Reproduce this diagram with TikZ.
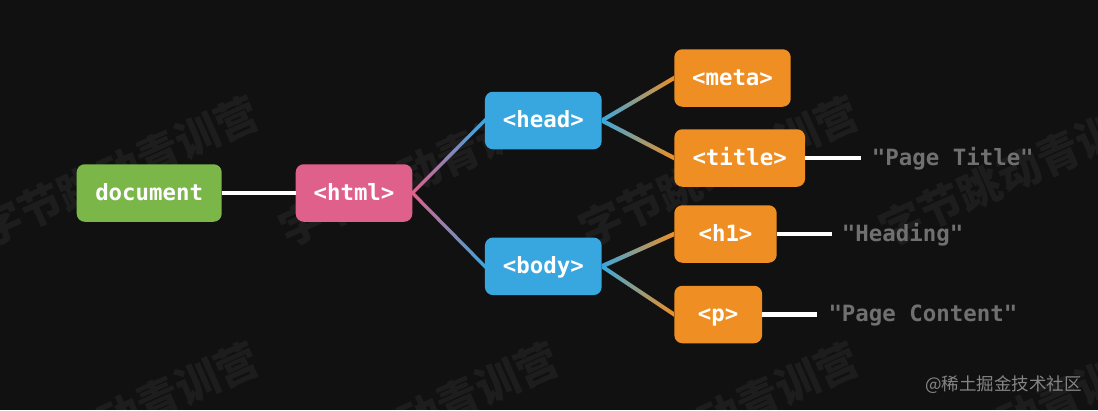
\documentclass[tikz,border=0pt]{standalone}
\usepackage{fontspec}
\usepackage{tikz}
\newfontfamily\codefont{DejaVu Sans Mono}
\newfontfamily\cjkfont{Noto Sans CJK SC}

\definecolor{bgc}{HTML}{111111}
\definecolor{docgreen}{HTML}{7AB648}
\definecolor{htmlpink}{HTML}{E0608C}
\definecolor{tagblue}{HTML}{39A7DF}
\definecolor{leaforange}{HTML}{EF8E22}
\definecolor{midpurple}{HTML}{A58AD4}
\definecolor{midolive}{HTML}{949A80}
\definecolor{textgray}{HTML}{707070}
\definecolor{creditgray}{HTML}{858585}

\tikzset{
  tag/.style={rounded corners=8pt, minimum height=57.5pt, inner sep=0pt, text=white,
    font=\codefont\bfseries\fontsize{22.4}{26}\selectfont, text height=17pt, text depth=3pt},
  leaf/.style={tag, fill=leaforange},
  strtext/.style={anchor=west, inner sep=0pt, text=textgray, text height=17pt, text depth=3pt,
    font=\codefont\bfseries\fontsize{22.4}{26}\selectfont},
  wire/.style={white, line width=4.3pt},
  watermark/.style={rotate=24, inner sep=0pt, text=white, text opacity=0.05,
    font=\cjkfont\bfseries\fontsize{43}{43}\selectfont},
  credit/.style={anchor=east, inner sep=0pt, text=creditgray, font=\cjkfont\fontsize{17.5}{20}\selectfont},
}

\begin{document}
\begin{tikzpicture}[x=1pt,y=-1pt]
\useasboundingbox (0,0) rectangle (1098,410);
\fill[bgc] (0,0) rectangle (1098,410);

% watermark
\begin{scope}
\clip (0,0) rectangle (1098,410);
\foreach \wx in {119,419,719,1019}
  \foreach \wy in {171,417}
    \node[watermark] (wm-\wx-\wy) at (\wx,\wy) {字节跳动青训营};
\end{scope}

% tree of tags
\node[tag, fill=docgreen, minimum width=145pt] (doc) at (149.2,193) {document};
\node[tag, fill=htmlpink, minimum width=116.6pt] (html) at (354,193) {<html>};
\node[tag, fill=tagblue, minimum width=116.7pt] (head) at (543.3,120.5) {<head>};
\node[tag, fill=tagblue, minimum width=116.7pt] (body) at (543.3,266.3) {<body>};
\node[leaf, minimum width=116.4pt] (meta) at (732.5,78) {<meta>};
\node[leaf, minimum width=130.7pt] (title) at (739.7,158) {<title>};
\node[leaf, minimum width=102.4pt] (hone) at (725.5,234) {<h1>};
\node[leaf, minimum width=87.7pt] (para) at (718.2,314.5) {<p>};

% text contents
\node[strtext] (ttl) at (871.7,158) {"Page Title"};
\node[strtext] (hdg) at (841.7,234) {"Heading"};
\node[strtext] (cnt) at (828.3,314.5) {"Page Content"};

\draw[wire] (doc) -- (html);
\draw[wire, shorten >=11pt] (title.east) -- (ttl.west);
\draw[wire, shorten >=10pt] (hone.east) -- (hdg.west);
\draw[wire, shorten >=11pt] (para.east) -- (cnt.west);

% shaded links
\foreach \from/\to/\ca/\cm/\cb in {html/head/htmlpink/midpurple/tagblue,
    html/body/htmlpink/midpurple/tagblue,
    head/meta/tagblue/midolive/leaforange, head/title/tagblue/midolive/leaforange,
    body/hone/tagblue/midolive/leaforange, body/para/tagblue/midolive/leaforange}
  \shade[left color=\ca, middle color=\cm, right color=\cb]
    ([yshift=2.4pt]\from.east) -- ([yshift=2.4pt]\to.west)
    -- ([yshift=-2.4pt]\to.west) -- ([yshift=-2.4pt]\from.east) -- cycle;

\node[credit] (credit) at (1082,385) {@稀土掘金技术社区};
\end{tikzpicture}
\end{document}
